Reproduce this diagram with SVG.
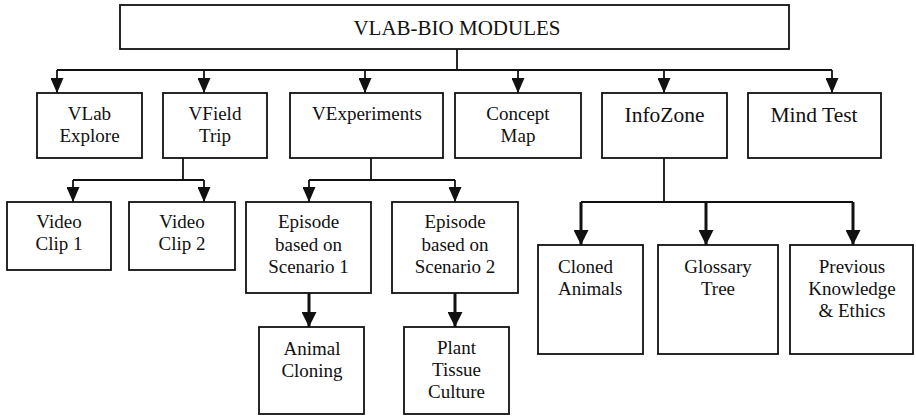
<svg xmlns="http://www.w3.org/2000/svg" width="916" height="416" viewBox="0 0 916 416">
  <style>
    .box { fill: #fff; stroke: #111; stroke-width: 1.8; }
    text { font-family: 'Liberation Serif', 'Times New Roman', Tinos, 'DejaVu Serif', serif; font-size: 19px; fill: #111; text-anchor: middle; }
    .big { font-size: 21.5px; }
    .wire { fill: none; stroke: #111; stroke-width: 1.8; }
    .thick { fill: none; stroke: #111; stroke-width: 3; }
  </style>
  <defs>
    <marker id="ah" viewBox="0 0 15 13" refX="15" refY="6.5" markerWidth="15" markerHeight="13" markerUnits="userSpaceOnUse" orient="auto">
      <path d="M0,0 L15,6.5 L0,13 Z" fill="#111"/>
    </marker>
    <marker id="ahBig" viewBox="0 0 15 15" refX="15" refY="7.5" markerWidth="15" markerHeight="15" markerUnits="userSpaceOnUse" orient="auto">
      <path d="M0,0 L15,7.5 L0,15 Z" fill="#111"/>
    </marker>
  </defs>

  <g id="connectors">
    <!-- root to first level -->
    <path class="wire" d="M457,49 V70 M57,70 H832"/>
    <path class="wire" d="M57,70 V93" marker-end="url(#ah)"/>
    <path class="wire" d="M204,70 V93" marker-end="url(#ah)"/>
    <path class="wire" d="M365,70 V93" marker-end="url(#ah)"/>
    <path class="wire" d="M518,70 V93" marker-end="url(#ah)"/>
    <path class="wire" d="M664,70 V93" marker-end="url(#ah)"/>
    <path class="wire" d="M832,70 V93" marker-end="url(#ah)"/>
    <!-- VField Trip -->
    <path class="wire" d="M183,158 V180 M73,180 H204"/>
    <path class="wire" d="M73,180 V202" marker-end="url(#ah)"/>
    <path class="wire" d="M204,180 V202" marker-end="url(#ah)"/>
    <!-- VExperiments -->
    <path class="wire" d="M371,158 V180 M309,180 H455"/>
    <path class="wire" d="M309,180 V202" marker-end="url(#ah)"/>
    <path class="wire" d="M455,180 V202" marker-end="url(#ah)"/>
    <!-- Episodes -->
    <path class="thick" d="M309,293 V327" marker-end="url(#ahBig)"/>
    <path class="thick" d="M455,293 V327" marker-end="url(#ahBig)"/>
    <!-- InfoZone -->
    <path class="wire" d="M664,158 V202 M581,202 H853"/>
    <path class="thick" d="M581,202 V245" marker-end="url(#ahBig)"/>
    <path class="thick" d="M706,202 V245" marker-end="url(#ahBig)"/>
    <path class="thick" d="M853,202 V245" marker-end="url(#ahBig)"/>
  </g>

  <g id="root">
    <rect class="box" x="120" y="5" width="669" height="44"/>
    <text x="457" y="35" style="font-size:21px">VLAB-BIO MODULES</text>
  </g>

  <g id="vlab-explore">
    <rect class="box" x="37" y="93" width="105" height="65"/>
    <text x="89.5" y="120">VLab</text>
    <text x="89.5" y="142">Explore</text>
  </g>
  <g id="vfield-trip">
    <rect class="box" x="163" y="93" width="104" height="65"/>
    <text x="215" y="120">VField</text>
    <text x="215" y="142">Trip</text>
  </g>
  <g id="vexperiments">
    <rect class="box" x="290" y="93" width="153" height="65"/>
    <text x="367" y="120">VExperiments</text>
  </g>
  <g id="concept-map">
    <rect class="box" x="455" y="93" width="126" height="65"/>
    <text x="518" y="120">Concept</text>
    <text x="518" y="142">Map</text>
  </g>
  <g id="infozone">
    <rect class="box" x="602" y="93" width="125" height="65"/>
    <text class="big" x="664.5" y="122">InfoZone</text>
  </g>
  <g id="mind-test">
    <rect class="box" x="748" y="93" width="133" height="65"/>
    <text class="big" x="814" y="122">Mind Test</text>
  </g>

  <g id="video-clip-1">
    <rect class="box" x="7" y="202" width="104" height="68"/>
    <text x="59" y="228">Video</text>
    <text x="59" y="250">Clip 1</text>
  </g>
  <g id="video-clip-2">
    <rect class="box" x="129" y="202" width="106" height="68"/>
    <text x="182" y="228">Video</text>
    <text x="182" y="250">Clip 2</text>
  </g>

  <g id="episode-1">
    <rect class="box" x="246" y="202" width="125" height="91"/>
    <text x="308.5" y="228">Episode</text>
    <text x="308.5" y="250.5">based on</text>
    <text x="308.5" y="273">Scenario 1</text>
  </g>
  <g id="episode-2">
    <rect class="box" x="392" y="202" width="126" height="91"/>
    <text x="455" y="228">Episode</text>
    <text x="455" y="250.5">based on</text>
    <text x="455" y="273">Scenario 2</text>
  </g>

  <g id="animal-cloning">
    <rect class="box" x="259" y="327" width="105" height="87"/>
    <text x="312" y="355">Animal</text>
    <text x="312" y="377">Cloning</text>
  </g>
  <g id="plant-tissue-culture">
    <rect class="box" x="404" y="327" width="105" height="87"/>
    <text x="456.5" y="354">Plant</text>
    <text x="456.5" y="376">Tissue</text>
    <text x="456.5" y="398">Culture</text>
  </g>

  <g id="cloned-animals">
    <rect class="box" x="538" y="245" width="105" height="109"/>
    <text x="558" y="273" style="text-anchor:start">Cloned</text>
    <text x="558" y="295" style="text-anchor:start">Animals</text>
  </g>
  <g id="glossary-tree">
    <rect class="box" x="658" y="245" width="120" height="109"/>
    <text x="718" y="273">Glossary</text>
    <text x="718" y="295">Tree</text>
  </g>
  <g id="previous-knowledge">
    <rect class="box" x="790" y="245" width="123" height="109"/>
    <text x="852" y="273">Previous</text>
    <text x="852" y="295">Knowledge</text>
    <text x="852" y="317">&amp; Ethics</text>
  </g>
</svg>
